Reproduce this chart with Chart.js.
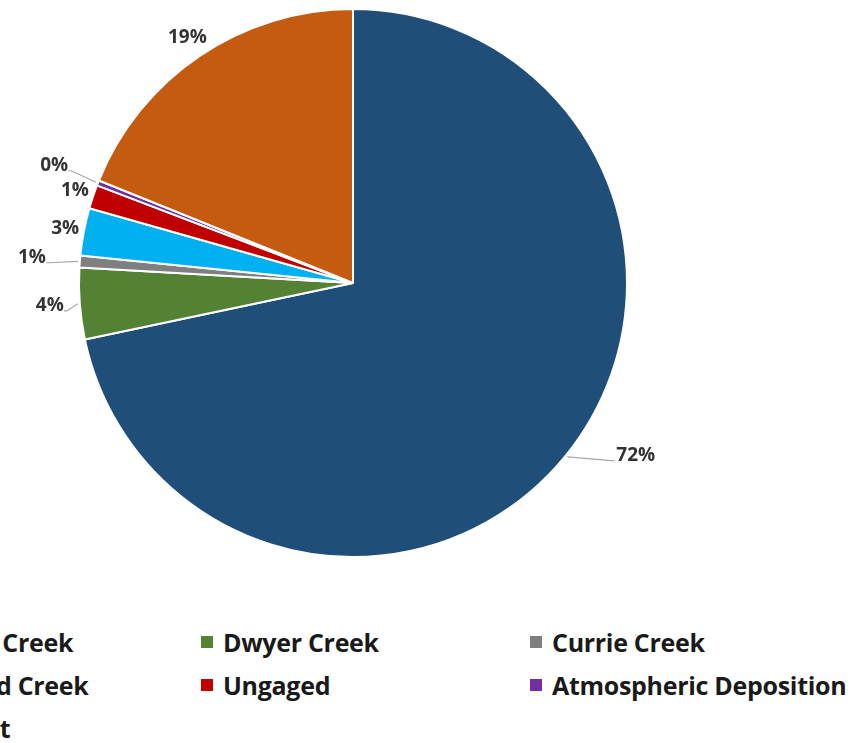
<!DOCTYPE html>
<html>
<head>
<meta charset="utf-8">
<script src="https://cdn.jsdelivr.net/npm/chart.js@4.4.1/dist/chart.umd.min.js"></script>
<style>
  html, body { margin:0; padding:0; background:#fff; overflow:hidden; }
  body { width:862px; height:743px; position:relative; }
  #pieBox { position:absolute; left:0; top:0; width:706px; height:566px; }
  #legend { position:absolute; left:-128px; top:620px; display:grid; grid-template-columns:329px 329px 329px; grid-auto-rows:43px; }
  .lg-item { display:flex; align-items:center; font-family:"Open Sans", sans-serif; font-weight:bold; font-size:25px; letter-spacing:-0.3px; color:#1a1a1a; white-space:nowrap; }
  .lg-box { width:12px; height:12px; margin-right:10px; flex:none; }
</style>
</head>
<body>
<div id="pieBox"><canvas id="pie"></canvas></div>
<div id="legend"></div>
<script>
(function(){
  // sources of the load, in slice order (clockwise from 12 o'clock)
  const sources = ['Sinclairs Creek', 'Dwyer Creek', 'Currie Creek', 'Goodland Creek', 'Ungaged', 'Atmospheric Deposition', 'Sediment'];
  const shares = [71.7, 4.2, 0.7, 2.8, 1.4, 0.3, 18.9];
  const sliceColors = ['#1F4E79', '#548235', '#7F7F7F', '#00B0F0', '#C00000', '#7030A0', '#C55A11'];

  // label placement (style only): extra radius past the rim, or a sideways push
  const labelPlace = [{ side:70 }, { r:30 }, { r:48 }, { r:19 }, { r:19 }, { r:47 }, { r:22 }];

  function pct(v){ return Math.round(v) + '%'; }

  const outsideLabels = {
    id:'outsideLabels',
    afterDraw(chart){
      const ctx = chart.ctx;
      const meta = chart.getDatasetMeta(0);
      ctx.save();
      ctx.font = 'bold 19px "Open Sans", sans-serif';
      ctx.textAlign = 'center';
      ctx.textBaseline = 'middle';
      meta.data.forEach((arc, i) => {
        const p = arc.getProps(['x','y','startAngle','endAngle','outerRadius'], true);
        const a = (p.startAngle + p.endAngle) / 2;
        const cos = Math.cos(a), sin = Math.sin(a);
        const ex = p.x + cos * p.outerRadius, ey = p.y + sin * p.outerRadius;
        const txt = pct(shares[i]);
        const w = ctx.measureText(txt).width;
        const place = labelPlace[i];
        let lx, ly;
        if(place.side){
          lx = ex + (cos >= 0 ? 1 : -1) * place.side;
          ly = ey;
        } else {
          lx = p.x + cos * (p.outerRadius + place.r);
          ly = p.y + sin * (p.outerRadius + place.r);
        }
        const gap = place.side ? place.side : place.r;
        if(gap >= 28){
          const tx = cos >= 0 ? lx - w/2 - 5 : lx + w/2 + 3;
          ctx.strokeStyle = '#A6A6A6';
          ctx.lineWidth = 1.2;
          ctx.beginPath();
          ctx.moveTo(ex + cos*2, ey + sin*2);
          ctx.lineTo(tx, ly + 5);
          ctx.lineTo(tx + (cos >= 0 ? 3 : -3), ly + 5);
          ctx.stroke();
        }
        ctx.fillStyle = '#333333';
        ctx.fillText(txt, lx, ly);
      });
      ctx.restore();
    }
  };

  new Chart(document.getElementById('pie').getContext('2d'), {
    type:'pie',
    data:{ labels:sources, datasets:[{ data:shares, backgroundColor:sliceColors, borderColor:'#ffffff', borderWidth:2 }] },
    options:{
      responsive:true,
      maintainAspectRatio:false,
      animation:false,
      layout:{ padding:8 },
      plugins:{ legend:{ display:false }, tooltip:{ enabled:false } }
    },
    plugins:[outsideLabels]
  });

  // legend laid out in three fixed columns, row by row
  const lg = document.getElementById('legend');
  lg.innerHTML = sources.map((s, i) =>
    `<div class="lg-item"><span class="lg-box" style="background:${sliceColors[i]}"></span>${s}</div>`
  ).join('');
})();
</script>
</body>
</html>
